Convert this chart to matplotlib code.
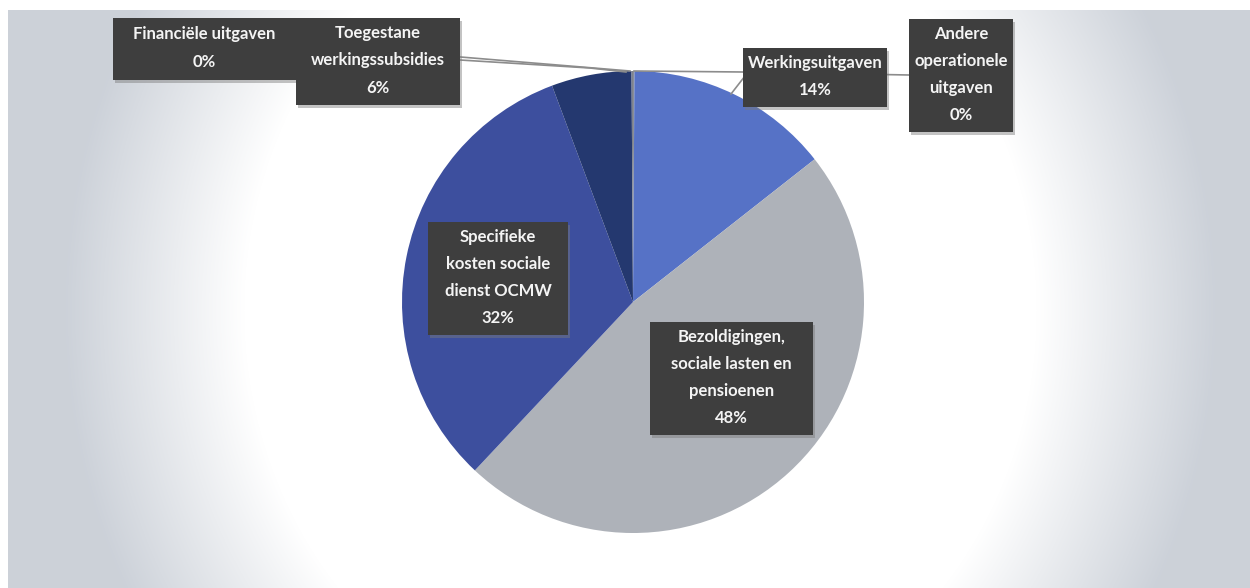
import matplotlib.pyplot as plt
import numpy as np

# Uitgaven per categorie (aandeel in %), in wijzerzin vanaf 12 uur
categories = ["Andere\noperationele\nuitgaven",
              "Werkingsuitgaven",
              "Bezoldigingen,\nsociale lasten en\npensioenen",
              "Specifieke\nkosten sociale\ndienst OCMW",
              "Toegestane\nwerkingssubsidies",
              "Financiële uitgaven"]
values = [0.1, 14.3, 47.6, 32.3, 5.6, 0.1]
colors = ["#8a8f99", "#5672c6", "#aeb2b9", "#3d4f9e", "#24386f", "#7d828c"]

W, H = 1250, 588
fig = plt.figure(figsize=(W / 100, H / 100), dpi=100)
fig.patch.set_facecolor("white")
ax = fig.add_axes([0, 0, 1, 1])

# achtergrond: wit in het midden, grijsblauw naar de randen
gx, gy = np.meshgrid(np.arange(W), np.arange(H))
r = np.sqrt(((gx - 640) / 600.0) ** 2 + ((gy - 310) / 650.0) ** 2)
t = np.clip((r - 0.66) / 0.3, 0, 1)
edge = np.array([0.80, 0.82, 0.85])
img = 1 - t[..., None] * (1 - edge)
img[:10, :, :] = 1
img[:, :8, :] = 1
ax.imshow(img, extent=(0, W, 0, H), origin="upper", zorder=0)

cx, cy, rad = 633, H - 302, 231
ax.pie(values, colors=colors, startangle=90, counterclock=False,
       center=(cx, cy), radius=rad,
       wedgeprops=dict(linewidth=0))

ax.set_xlim(0, W)
ax.set_ylim(0, H)
ax.set_aspect("auto")
ax.axis("off")

total = sum(values)
# label boxes (x0, top, x1, bottom) in pixels
boxes = [(909, 19, 1013, 132),
         (743, 48, 887, 107),
         (650, 322, 813, 435),
         (428, 222, 568, 335),
         (296, 18, 460, 105),
         (113, 18, 296, 80)]

# leader lines (pixels)
leaders = [[(634, 71), (743, 72), (909, 75)],
           [(731, 94), (745, 76)],
           None,
           None,
           [(460, 60), (590, 68), (626, 72)],
           [(400, 52), (630, 71)]]
for pts in leaders:
    if pts is None:
        continue
    xs = [p[0] for p in pts]
    ys = [H - p[1] for p in pts]
    ax.plot(xs, ys, color="#8c8c8c", lw=1.2, zorder=2)

for name, v, (x0, y0, x1, y1) in zip(categories, values, boxes):
    # schaduw
    ax.add_patch(plt.Rectangle((x0 + 2, H - y1 - 3), x1 - x0, y1 - y0,
                               facecolor="#7a7a7a", alpha=0.45,
                               edgecolor="none", zorder=3))
    ax.add_patch(plt.Rectangle((x0, H - y1), x1 - x0, y1 - y0,
                               facecolor="#3e3e3e", edgecolor="none", zorder=4))
    ax.text((x0 + x1) / 2, H - (y0 + y1) / 2 + 1,
            f"{name}\n{round(v / total * 100)}%",
            ha="center", va="center", color="#f4f4f4", fontsize=12,
            family="Lato", weight="bold", linespacing=1.85, zorder=5)

fig.savefig("out.png", dpi=100, facecolor=fig.get_facecolor())
